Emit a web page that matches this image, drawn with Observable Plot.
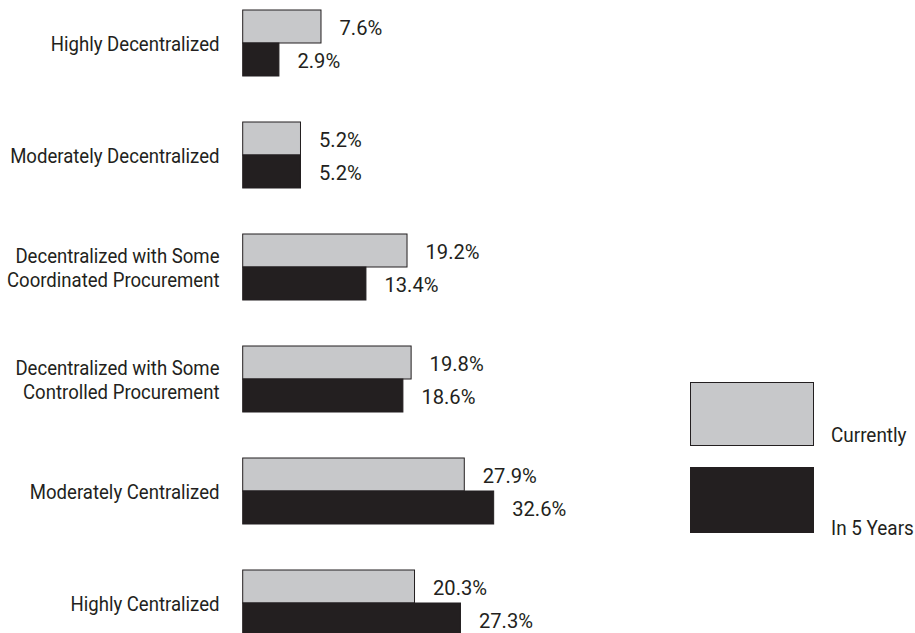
<!DOCTYPE html>
<html>
<head>
<meta charset="utf-8">
<script src="https://cdn.jsdelivr.net/npm/d3@7"></script>
<script src="https://cdn.jsdelivr.net/npm/@observablehq/plot@0.6"></script>
<style>
  html, body { margin: 0; padding: 0; background: #fff; overflow: hidden; }
  #wrap { position: relative; width: 915px; height: 633px; overflow: hidden; }
  #chart svg { display: block; }
  .lg-box { position: absolute; box-sizing: border-box; }
  .lg-text { position: absolute; font-family: Roboto, "Liberation Sans", sans-serif; font-size: 21px; color: #231f20; line-height: 1; white-space: nowrap; transform: scaleX(0.9); transform-origin: 0 0; }
</style>
</head>
<body>
<div id="wrap">
  <div id="chart"></div>
  <div class="lg-box" style="left:689.5px; top:381.5px; width:124.5px; height:64.5px; background:#c7c8ca; border:1px solid #231f20;"></div>
  <div class="lg-box" style="left:689.5px; top:467px; width:124.5px; height:65.5px; background:#231f20;"></div>
  <div class="lg-text" style="left:831px; top:425px;">Currently</div>
  <div class="lg-text" style="left:831px; top:518px;">In 5 Years</div>
</div>
<script>
const categories = [
  "Highly Decentralized",
  "Moderately Decentralized",
  "Decentralized with Some\nCoordinated Procurement",
  "Decentralized with Some\nControlled Procurement",
  "Moderately Centralized",
  "Highly Centralized"
];
const series = ["Currently", "In 5 Years"];
const currently = [7.6, 5.2, 19.2, 19.8, 27.9, 20.3];
const in5Years = [2.9, 5.2, 13.4, 18.6, 32.6, 27.3];
const colors = ["#c7c8ca", "#231f20"];

const data = categories.flatMap((c, i) => [
  {category: c, series: series[0], value: currently[i]},
  {category: c, series: series[1], value: in5Years[i]}
]);

const font = 'Roboto, "Liberation Sans", sans-serif';
// condensed look of the original typeface
const squeezeLabels = 0.885;
const squeezeValues = 0.96;

const chart = Plot.plot({
  width: 915,
  height: 640,
  marginTop: 9,
  marginBottom: 4,
  marginLeft: 243,
  marginRight: 0,
  style: {fontFamily: font, fontSize: "21px", color: "#231f20", background: "#fff"},
  x: {type: "pow", exponent: 0.8, domain: [0, 40], range: [242.7, 538.3], axis: null},
  fy: {domain: categories, paddingInner: 0.4018, paddingOuter: 0, label: null},
  y: {domain: series, padding: 0, axis: null},
  color: {domain: series, range: colors},
  marks: [
    Plot.barX(data, {fy: "category", y: "series", x: "value", fill: "series", stroke: "#231f20", strokeWidth: 1}),
    Plot.text(data, {fy: "category", y: "series", x: "value", text: d => d.value.toFixed(1) + "%", dx: 18, dy: 1, textAnchor: "start", fontSize: 21, fill: "#231f20"}),
    Plot.axisFy({anchor: "left", tickSize: 0, tickPadding: 24, label: null, fontSize: 21, lineHeight: 1.19, fill: "#231f20"})
  ]
});

// Horizontally condense every text around its own anchor point
chart.querySelectorAll("text").forEach(t => {
  const g = t.closest("g[aria-label]");
  const isValue = g && g.getAttribute("aria-label") === "text";
  const s = isValue ? squeezeValues : squeezeLabels;
  const tr = t.getAttribute("transform");
  if (tr) {
    t.setAttribute("transform", tr + ` scale(${s},1)`);
  } else {
    const x = +(t.getAttribute("x") || 0), y = +(t.getAttribute("y") || 0);
    t.removeAttribute("x"); t.removeAttribute("y");
    t.setAttribute("transform", `translate(${x},${y}) scale(${s},1)`);
  }
});
document.getElementById("chart").appendChild(chart);
</script>
</body>
</html>
